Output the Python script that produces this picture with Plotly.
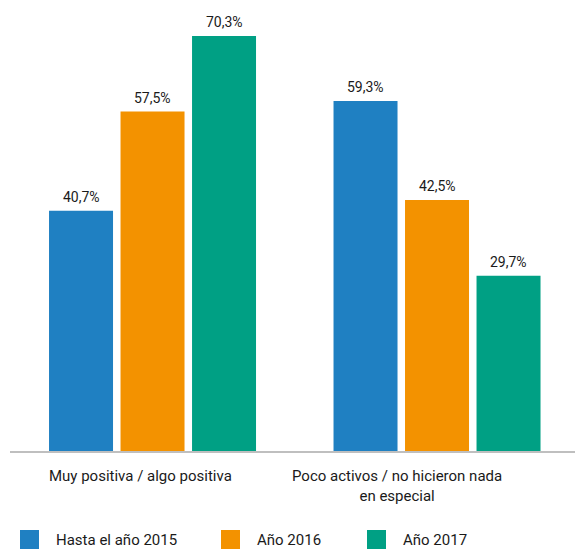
import plotly.graph_objects as go

categories = ["Muy positiva / algo positiva", "Poco activos / no hicieron nada<br>en especial"]
series_names = ["Hasta el año 2015", "Año 2016", "Año 2017"]
values_2015 = [40.7, 59.3]
values_2016 = [57.5, 42.5]
values_2017 = [70.3, 29.7]
colors = ["#1f80c2", "#f39200", "#00a084"]

W, H = 575, 549
L, R, T, B = 10, 0, 10, 98
pw = W - L - R
ph = H - T - B
BARGAP = 0.246
TXT = "#1a1a1a"

fig = go.Figure()
series = [values_2015, values_2016, values_2017]
for name, vals, col in zip(series_names, series, colors):
    fig.add_bar(x=categories, y=vals, name=name, marker_color=col, marker_line_width=0)

shapes = []
annotations = []

# value labels above bars (placed through the axes from the data)
slot = (1 - BARGAP) / len(series)
for j, vals in enumerate(series):
    for i, v in enumerate(vals):
        annotations.append(dict(xref="x", yref="y", x=i + (j - 1) * slot, y=v,
                                text=f"{v:.1f}%".replace(".", ","), showarrow=False,
                                xanchor="center", yanchor="bottom", yshift=4,
                                font=dict(size=14, color=TXT)))

# category labels (offset like the reference)
label_shift = [-12, -40]
for i, (cat, xs) in enumerate(zip(categories, label_shift)):
    annotations.append(dict(xref="x", yref="y", x=i, y=0, text=cat, showarrow=False,
                            xanchor="center", yanchor="top", xshift=xs, yshift=-14,
                            align="center", font=dict(size=15, color=TXT)))

# manual legend
legend_px = [20, 221, 367]
for px, name, col in zip(legend_px, series_names, colors):
    shapes.append(dict(type="rect", xref="paper", yref="paper",
                       x0=(px - L) / pw, x1=(px + 19 - L) / pw,
                       y0=-(549 - (H - B)) / ph, y1=-(530 - (H - B)) / ph,
                       fillcolor=col, line_width=0))
    annotations.append(dict(xref="paper", yref="paper", x=(px + 34 - L) / pw, y=-(540 - (H - B)) / ph,
                            text=name, showarrow=False, xanchor="left", yanchor="middle",
                            font=dict(size=15, color=TXT)))

fig.update_layout(
    width=W, height=H,
    margin=dict(l=L, r=R, t=T, b=B),
    paper_bgcolor="white", plot_bgcolor="white",
    font=dict(family="Roboto", size=14, color=TXT),
    barmode="group", bargap=BARGAP, bargroupgap=0.105,
    showlegend=False,
    shapes=shapes, annotations=annotations,
    xaxis=dict(showline=True, linecolor="#bfbfbf", linewidth=2, ticks="", showticklabels=False,
               range=[-0.501, 1.485]),
    yaxis=dict(visible=False, range=[0, 74.7]),
)
fig.write_html("out.html", post_script="document.body.style.margin='0';",
               config={"displayModeBar": False})
